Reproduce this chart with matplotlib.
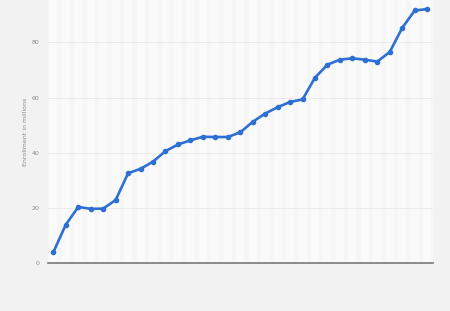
import numpy as np
import matplotlib
matplotlib.use("Agg")
import matplotlib.pyplot as plt

# values (millions)
enrollment = [4.0, 14.0, 20.4, 19.7, 19.8, 22.9, 32.6, 34.2, 36.8, 40.6,
              43.0, 44.5, 45.8, 45.7, 45.7, 47.4, 51.2, 54.2, 56.5, 58.4,
              59.3, 67.2, 71.9, 73.7, 74.2, 73.7, 73.0, 76.5, 85.2, 91.5,
              92.0]
yticks = [0, 20, 40, 60, 80]
ylabel = "Enrollment in millions"

x = np.arange(len(enrollment))

fig = plt.figure(figsize=(4.5, 3.11), dpi=100)
fig.patch.set_facecolor("#f2f2f2")
ax = fig.add_axes([48 / 450, 0.1534, 385 / 450, 0.8466])
ax.set_facecolor("#f6f6f6")

# faint vertical stripes behind the line
for i in x:
    ax.axvspan(i - 0.32, i + 0.32, color="#fafafa", lw=0, zorder=0)

for t in yticks[1:]:
    ax.axhline(t, color="#e8e8e8", lw=0.6, zorder=1)
ax.axhline(0, color="#7a7a7a", lw=1.2, zorder=2, clip_on=False)

ax.plot(x, enrollment, color="#2d6fd2", lw=1.9, marker="o", ms=3.0,
        zorder=3, solid_capstyle="round")

ax.set_xlim(-0.43, len(enrollment) - 1 + 0.47)
ax.set_ylim(0, 95.3)
ax.set_xticks([])
ax.set_yticks(yticks)
ax.tick_params(axis="y", length=0, labelsize=4.5, labelcolor="#8a8a8a", pad=6)
for s in ax.spines.values():
    s.set_visible(False)
ax.set_ylabel(ylabel, fontsize=4.5, color="#8a8a8a", labelpad=3)

fig.savefig("out.png", dpi=100, facecolor=fig.get_facecolor())
